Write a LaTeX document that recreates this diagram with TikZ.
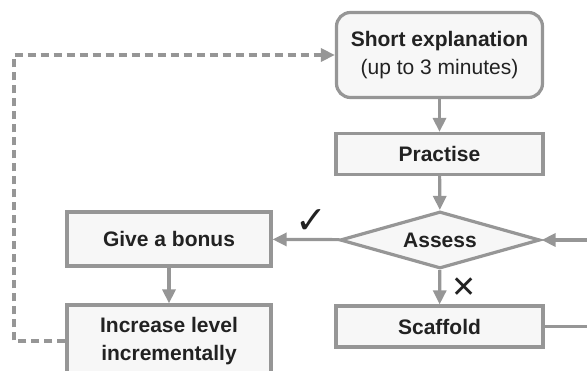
\documentclass[tikz,border=0pt]{standalone}
\usepackage{fontspec}
\setmainfont{Liberation Sans}
\newfontfamily\symfont{DejaVu Sans}
\usetikzlibrary{shapes.geometric, arrows.meta, positioning}
\definecolor{lineGrey}{RGB}{150,150,150}
\definecolor{boxFill}{RGB}{247,247,247}
\definecolor{inkDark}{RGB}{34,34,34}

\begin{document}
\begin{tikzpicture}[x=1pt, y=-1pt, line width=3.2pt,
  every node/.style={font=\fontsize{21}{28}\selectfont\bfseries, text=inkDark},
  stepbox/.style={draw=lineGrey, fill=boxFill, minimum width=207pt, minimum height=41pt, inner sep=0pt, align=center},
  startbox/.style={stepbox, rounded corners=14pt, minimum width=206pt, minimum height=85pt},
  decision/.style={diamond, draw=lineGrey, fill=boxFill, aspect=3.5, minimum width=200pt, minimum height=57pt, inner sep=0pt},
  outcome/.style={font=\symfont\mdseries\fontsize{38}{38}\selectfont},
  flow/.style={draw=lineGrey, -{Triangle[length=14pt, width=13pt]}},
  loopback/.style={flow, dash pattern=on 8pt off 5pt}]
  \clip (0,0) rectangle (587,371);
  % Main column
  \node[startbox] (expl) at (439.5,55) {Short explanation\\{\mdseries (up to 3 minutes)}};
  \node[stepbox] (prac) at (439.5,154) {Practise};
  \node[decision] (assess) at (440,240) {Assess};
  \node[stepbox] (scaff) at (439.5,326.5) {Scaffold};
  % Left column
  \node[stepbox, minimum width=204pt, minimum height=54pt] (bonus) at (169,239) {Give a bonus};
  \node[stepbox, minimum width=204pt, minimum height=72pt] (incr) at (169,341) {Increase level\\incrementally};
  % Outcome marks
  \node[outcome] (yes) at (311,222) {✓};
  \node[outcome, font=\symfont\mdseries\fontsize{30}{30}\selectfont] (no) at (464,288) {✕};
  % Helper points for the loops
  \coordinate (loopR) at (610,326.5);
  \coordinate (loopL) at (14,0);
  % Connectors
  \draw[flow] (expl) -- (prac);
  \draw[flow] (prac) -- (assess);
  \draw[flow] (assess) -- (bonus);
  \draw[flow] (assess) -- (scaff);
  \draw[flow] (bonus) -- (incr);
  \draw[flow] (scaff.east) -- (loopR) |- (assess.east);
  \draw[loopback] (incr.west) -- (incr.west -| loopL) |- (expl.west);
\end{tikzpicture}
\end{document}
